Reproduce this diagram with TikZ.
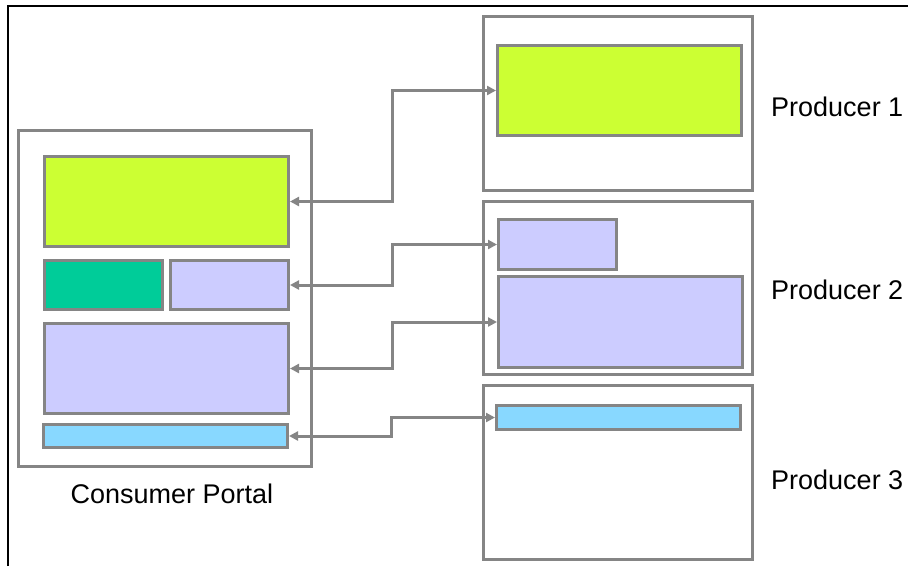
\documentclass[tikz,border=0pt]{standalone}
\usepackage{fontspec}
\setmainfont{Liberation Sans}
\usetikzlibrary{arrows.meta}
\definecolor{edgegray}{HTML}{858585}
\definecolor{limeg}{HTML}{CCFF33}
\definecolor{tealg}{HTML}{00CC99}
\definecolor{lav}{HTML}{CCCCFF}
\definecolor{skyb}{HTML}{88D8FF}
\begin{document}
\begin{tikzpicture}[x=1pt,y=-1pt,
  box/.style={draw=edgegray, line width=3pt, rectangle, inner sep=0pt, anchor=north west},
  conn/.style={draw=edgegray, line width=3pt, {Triangle[length=9pt,width=9pt]}-{Triangle[length=9pt,width=9pt]}},
  lbl/.style={font=\fontsize{27}{30}\selectfont, inner sep=0pt}]
\useasboundingbox (0,0) rectangle (908,566);
\fill[white] (0,0) rectangle (908,566);
\draw[black, line width=2pt] (8,566) -- (8,6) -- (908,6);
% consumer portal
\node[box, minimum width=293pt, minimum height=336pt] (cp) at (17,129) {};
\node[box, fill=limeg, minimum width=244pt, minimum height=90pt] (cg) at (43,155) {};
\node[box, fill=tealg, minimum width=118pt, minimum height=49pt] (ct) at (43,259) {};
\node[box, fill=lav, minimum width=118pt, minimum height=49pt] (cl1) at (169,259) {};
\node[box, fill=lav, minimum width=244pt, minimum height=90pt] (cl2) at (43,322) {};
\node[box, fill=skyb, minimum width=244pt, minimum height=23pt] (cc) at (42,423) {};
\node[lbl] (cpl) at (172,494) {Consumer Portal};
% producers
\node[box, minimum width=269pt, minimum height=174pt] (p1) at (482,15) {};
\node[box, fill=limeg, minimum width=244pt, minimum height=90pt] (p1g) at (496,44) {};
\node[box, minimum width=269pt, minimum height=173pt] (p2) at (482,200) {};
\node[box, fill=lav, minimum width=118pt, minimum height=50pt] (p2s) at (497,218) {};
\node[box, fill=lav, minimum width=244pt, minimum height=91pt] (p2l) at (497,275) {};
\node[box, minimum width=269pt, minimum height=174pt] (p3) at (482,384) {};
\node[box, fill=skyb, minimum width=244pt, minimum height=24pt] (p3c) at (495,404) {};
\node[lbl, anchor=west] (l1) at (771,107) {Producer 1};
\node[lbl, anchor=west] (l2) at (771,290) {Producer 2};
\node[lbl, anchor=west] (l3) at (771,480) {Producer 3};
% connectors
\coordinate (v1) at (392,0);
\coordinate (v4) at (391,0);
\draw[conn] (cg.east) -- (cg.east -| v1) |- (p1g.west);
\draw[conn] (cl1.east) -- (cl1.east -| v1) |- (p2s.west);
\draw[conn] (cl2.east) -- (cl2.east -| v1) |- (p2l.west);
\draw[conn] (cc.east) -- (cc.east -| v4) |- (p3c.west);
\end{tikzpicture}
\end{document}
